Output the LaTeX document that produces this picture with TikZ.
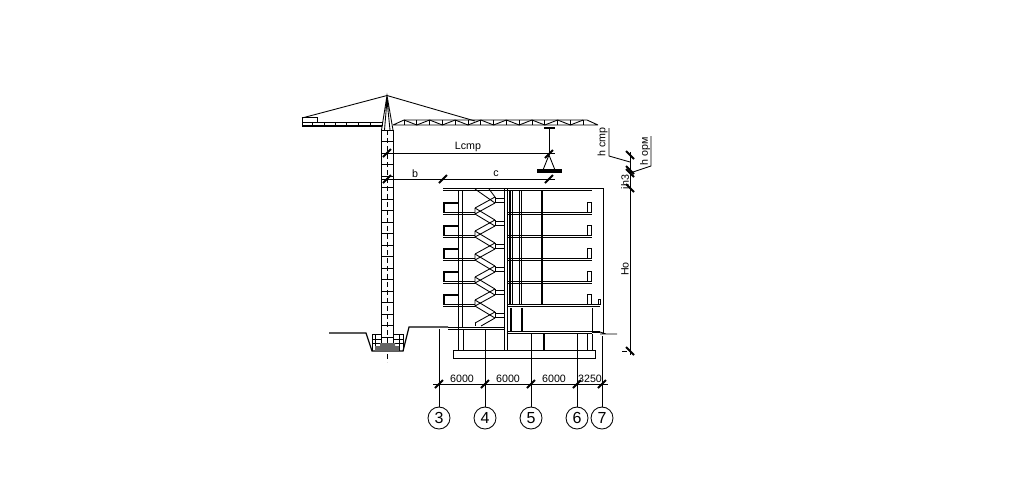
\documentclass[tikz,border=0pt]{standalone}
\usepackage{fontspec}
\setmainfont{Liberation Sans}
\tikzset{
  thinline/.style={line width=0.65pt},
  wallline/.style={line width=0.9pt},
  boldline/.style={line width=1.5pt},
  dimlabel/.style={font=\fontsize{8}{8}\selectfont,inner sep=0pt},
  axiscircle/.style={circle,draw,thinline,minimum size=16.5pt,inner sep=0pt,font=\fontsize{12}{12}\selectfont},
  dimtick/.pic={\draw[boldline] (-4,4) -- (4,-4);},
  vdimtick/.pic={\draw[boldline] (-4,-4) -- (4,4);}
}
\begin{document}
\begin{tikzpicture}
  [x=0.75pt,y=-0.75pt,thinline]
  \useasboundingbox (0,0) rectangle (1024,487);

  % crane
  \draw (302,118) -- (387,95.5) -- (475,121);
  \draw (381.5,130) -- (387,95.5) -- (393,130)
  (384.5,130) -- (387,100) -- (390,130);
  \draw (302,117) rectangle (317,122);
  \draw (302,122) -- (382,122);
  \draw[wallline] (302,126) -- (382,126);
  \draw (302,122) -- (302,126);
  \foreach \xa in {312,324,335,346,358,370,382}
    \draw (\xa,122) -- (\xa,126);
  \draw (381.5,130) -- (381.5,343) (393,130) -- (393,343);
  \foreach \ya in {0,...,18}
    \draw (381.5,130+11.5*\ya) -- (393,130+11.5*\ya);
  \draw[dash pattern=on 4pt off 2pt] (387,130) -- (387,362);
  \draw (393,125) -- (598,125) (393,125) -- (404,120) -- (587,120) -- (598,125);
  \foreach \xa in {0,...,14}
    \draw (404+12.8*\xa,120) -- (404+12.8*\xa,125);
  \foreach \xa in {0,2,...,12}
    \draw (404+12.8*\xa,120) -- (416.8+12.8*\xa,125) -- (429.6+12.8*\xa,120);
  \draw[boldline] (544,128) -- (555,128);
  \draw (549,128) -- (549,155);
  \draw (549,155) -- (543,170) (549,155) -- (555,170);
  \fill (537,169) rectangle (562,173);

  % dimensions of the crane
  \draw (387,153) -- (555,153);
  \draw (381,179) -- (555,179);
  \path (387,153) pic {dimtick} (387,179) pic {dimtick} (443,179) pic {dimtick}
  (549,154) pic {dimtick} (549,179) pic {dimtick};
  \node[dimlabel] (lcmp) at (468,146.5) {Lcmp};
  \node[dimlabel] (bdim) at (415,174) {b};
  \node[dimlabel] (cdim) at (496,174) {c};

  % pit
  \draw[wallline] (329,333) -- (366,333) -- (372,351) -- (403,351) -- (409,327) -- (448,327);
  \draw (372,334) -- (372,351) (403,334) -- (403,351) (375,334) -- (375,351) (399,334) -- (399,351);
  \draw (372,334) -- (381,334) (393,334) -- (403,334)
  (372,339) -- (381,339) (393,339) -- (403,339)
  (372,343) -- (381,343) (393,343) -- (403,343);
  \fill[black!60] (375,346) rectangle (399,351) (380,343) rectangle (395,346);

  % building
  \draw (443,188) -- (592,188) (443,190.5) -- (592,190.5);
  \draw (592,188) -- (603,188) -- (603,333);
  \draw (458,190) -- (458,350) (462,190) -- (462,327) (463,329) -- (463,350);
  \draw (504.5,188) -- (504.5,350) (507.5,188) -- (507.5,350);
  \draw[wallline] (510,190) -- (510,304) (512.5,190) -- (512.5,304);
  \draw (519,190) -- (519,304) (521.5,190) -- (521.5,304);
  \draw[boldline] (542,190) -- (542,304);
  \foreach \ya in {212,235,258,281,304}
  {
    \draw (443,\ya) -- (475,\ya) (443,\ya+2.5) -- (475,\ya+2.5);
    \draw (507,\ya) -- (592,\ya) (507,\ya+2.5) -- (592,\ya+2.5);
    \draw[wallline] (444,\ya) -- (444,\ya-9) -- (458,\ya-9);
    \draw (587,\ya) -- (587,\ya-10) -- (591,\ya-10) -- (591,\ya);
  }
  \draw (443,306) -- (465,306) (592,304) -- (600,304) (592,306.5) -- (600,306.5);
  \draw (598,305) -- (598,299) -- (600,299) -- (600,305);
  \draw[boldline] (510.5,308) -- (510.5,331) (522,308) -- (522,331);
  \draw (592,308) -- (592,331);
  \draw (448,327) -- (505,327) (448,329.5) -- (505,329.5);
  \draw (507,331) -- (592,331) (507,333.5) -- (592,333.5);
  \draw[boldline] (592,332) -- (600,332);
  \draw (600,332) -- (606,334) -- (617,334) (600,334) -- (606,334);
  \draw[boldline] (544,334) -- (544,350);
  \draw (587,334) -- (587,350) (592,334) -- (592,350);
  \draw (453,350) rectangle (595,358);

  % stairs
  \draw (475,189) -- (495,203) (489,189) -- (495,197);
  \foreach \ya in {212,235,258,281,304}
    \draw (475,\ya-4) -- (495,\ya+8) (475,\ya+2) -- (495,\ya+14);
  \foreach \ya in {189,212,235,258,281}
    \draw (495,\ya+8) -- (475,\ya+19) (495,\ya+14) -- (475,\ya+25) (475,\ya+19) -- (475,\ya+25);
  \draw (495,312) -- (475,323) (495,318) -- (481,326);
  \draw (475,323) -- (475,326);
  \foreach \ya in {189,212,235,258,281,304}
  {
    \draw (495,\ya+8) -- (495,\ya+14);
    \draw (495,\ya+9) -- (505,\ya+9) (495,\ya+13) -- (505,\ya+13);
  }

  % dimensions of the height
  \draw (630,152) -- (630,355);
  \draw (622,351) -- (627,351);
  \path (630,155) pic {vdimtick} (630,170) pic {vdimtick} (630,173) pic {vdimtick}
  (630,188) pic {vdimtick} (630,351) pic {vdimtick};
  \draw (609,128) -- (609,156) -- (630,162);
  \draw (651,136) -- (651,166) -- (630,173);
  \node[dimlabel,rotate=90] (hcmp) at (602.5,142) {h cmp};
  \node[dimlabel,rotate=90] (hopm) at (645,151) {h opм};
  \node[dimlabel,rotate=90] (hthree) at (625,182) {ih3};
  \node[dimlabel,rotate=90] (hzero) at (625,269) {Hо};

  % axes
  \node[axiscircle] (axisc) at (439,418) {3};
  \node[axiscircle] (axisd) at (485,418) {4};
  \node[axiscircle] (axise) at (531,418) {5};
  \node[axiscircle] (axisf) at (577,418) {6};
  \node[axiscircle] (axisg) at (602,418) {7};
  \coordinate (topc) at (439,329);
  \coordinate (topd) at (485,329);
  \coordinate (tope) at (531,333);
  \coordinate (topf) at (577,333);
  \coordinate (topg) at (602,336);
  \draw (axisc) -- (topc);
  \draw (axisd) -- (topd);
  \draw (axise) -- (tope);
  \draw (axisf) -- (topf);
  \draw (axisg) -- (topg);
  \draw (433,384) -- (608,384);
  \path (439,384) pic {dimtick} (485,384) pic {dimtick} (531,384) pic {dimtick}
  (577,384) pic {dimtick} (602,384) pic {dimtick};
  \node[dimlabel] (dimc) at (462,379) {6000};
  \node[dimlabel] (dimd) at (508,379) {6000};
  \node[dimlabel] (dime) at (554,379) {6000};
  \node[dimlabel] (dimf) at (590,379) {3250};
\end{tikzpicture}
\end{document}
